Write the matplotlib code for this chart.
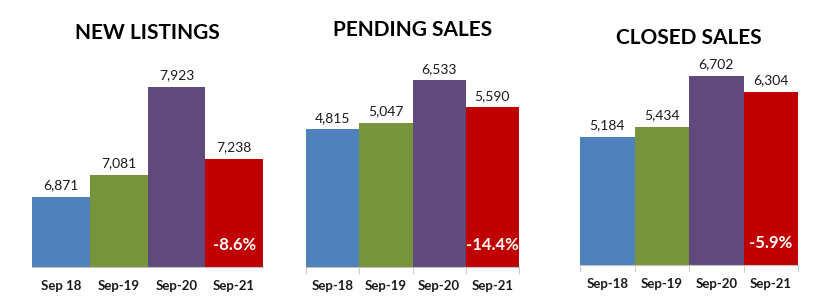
import numpy as np
import matplotlib
matplotlib.use("Agg")
import matplotlib.pyplot as plt

titles = ["NEW LISTINGS", "PENDING SALES", "CLOSED SALES"]
tick_labels = [
    ["Sep 18", "Sep-19", "Sep-20", "Sep-21"],
    ["Sep-18", "Sep-19", "Sep-20", "Sep-21"],
    ["Sep-18", "Sep-19", "Sep-20", "Sep-21"],
]
new_listings = [6871, 7081, 7923, 7238]
pending_sales = [4815, 5047, 6533, 5590]
closed_sales = [5184, 5434, 6702, 6304]
changes = ["-8.6%", "-14.4%", "-5.9%"]

series = [new_listings, pending_sales, closed_sales]
bar_colors = ["#4F81BD", "#77933C", "#604A7B", "#C00000"]

plt.rcParams['font.family'] = ['Lato', 'DejaVu Sans']

W, H = 826, 300
fig = plt.figure(figsize=(W / 100, H / 100), dpi=100)

# pixel boxes: left, right, bottom, axis min, axis max, title y
boxes = [
    (32, 263, 267, 6200, 8200, 33),
    (306, 519, 267, 0, 7000, 30),
    (580, 798, 265, 2000, 7000, 38),
]

for i, (x0, x1, yb, lo, hi, ty) in enumerate(boxes):
    vals = series[i]
    # top pixel from scale
    ax = fig.add_axes([x0 / W, 1 - yb / H, (x1 - x0) / W, 0.6])
    ind = np.arange(len(vals))
    ax.bar(ind, vals, 1.0, color=bar_colors, edgecolor='none')
    ax.set_xlim(-0.5, 3.5)
    ax.set_ylim(lo, hi)
    # keep pixel scale: height depends on range
    for s in ['top', 'right', 'left']:
        ax.spines[s].set_visible(False)
    ax.spines['bottom'].set_color('#BFBFBF')
    ax.set_yticks([])
    ax.set_xticks(ind)
    ax.set_xticklabels(tick_labels[i], fontsize=9.5, fontweight='bold', color='#1a1a1a')
    ax.tick_params(axis='x', length=0, pad=9)
    if i > 0:
        ax.set_xticks(np.arange(-0.5, 4.0, 1.0), minor=True)
        ax.tick_params(axis='x', which='minor', length=5, color='#BFBFBF')
    for k, v in enumerate(vals):
        ax.annotate(f"{v:,}", (k, v), xytext=(0, 4), textcoords='offset points',
                    ha='center', va='bottom', fontsize=10, color='#1a1a1a')
    ax.text(3, lo + (hi - lo) * 0.0, changes[i], transform=ax.transData,
            ha='center', va='bottom', fontsize=12, fontweight='bold', color='white')
    fig.text((x0 + x1) / 2 / W, 1 - ty / H, titles[i], ha='center', va='center',
             fontsize=15, fontweight='bold', color='black')

# fix axes heights so that scale per pixel matches
tops = [58, 67, 64]
for ax, (x0, x1, yb, lo, hi, ty), t in zip(fig.axes, boxes, tops):
    ax.set_position([x0 / W, 1 - yb / H, (x1 - x0) / W, (yb - t) / H])
    # move percentage label up to sit near bar bottom
    lbl = ax.texts[-1]
    lbl.set_position((3, lo + (hi - lo) * (14 / (yb - t))))

fig.savefig("out.png", dpi=100)
